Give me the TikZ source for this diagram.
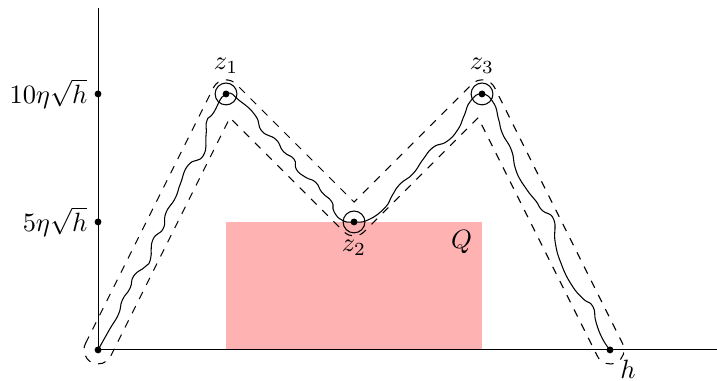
\documentclass[tikz,border=0pt]{standalone}
\usetikzlibrary{calc}
\tikzset{
  node-ring/.style={draw,circle,minimum size=2.9mm,inner sep=0pt},
  node-dot/.style={fill=black,circle,minimum size=2.6pt,inner sep=0pt},
  axisline/.style={draw,line width=0.4pt},
  tube/.style={draw,dashed,line width=0.4pt},
  walk/.style={draw,line width=0.4pt},
  region/.style={fill=red!30,draw=none},
}

\begin{document}
\begin{tikzpicture}[x=0.34cm,y=0.34cm]
  \useasboundingbox (-3.83,-1.21) rectangle (24.18,13.67);

  \coordinate (o)    at (0,0);
  \coordinate (c1)   at (5,10);
  \coordinate (c2)   at (10,5);
  \coordinate (c3)   at (15,10);
  \coordinate (ch)   at (20,0);
  \coordinate (ytop) at (0,13.36);
  \coordinate (xend) at (24.18,0);

  % region Q
  \fill[region] (5,0) rectangle (15,5);
  \node (q) at (14.2,4.2) {$Q$};

  % axes
  \draw[axisline] (o) -- (ytop);
  \draw[axisline] (o) -- (xend);
  \node[node-dot,label={[label distance=-1pt]left:$5\eta\sqrt{h}$}]  (t5)  at (0,5)  {};
  \node[node-dot,label={[label distance=-1pt]left:$10\eta\sqrt{h}$}] (t10) at (0,10) {};

  % tube of width 0.55 round the broken line
  \draw[tube] ($(o)+(153.43:0.55)$) -- ($(c1)+(153.43:0.55)$)
    arc[start angle=153.43,end angle=45,radius=0.55]
    -- (10,5.7778) -- ($(c3)+(135:0.55)$)
    arc[start angle=135,end angle=26.57,radius=0.55]
    -- ($(ch)+(26.57:0.55)$)
    arc[start angle=26.57,end angle=-153.43,radius=0.55]
    -- (14.8493,9.0715) -- ($(c2)+(-45:0.55)$)
    arc[start angle=-45,end angle=-135,radius=0.55]
    -- (5.1507,9.0715) -- ($(o)+(-26.57:0.55)$)
    arc[start angle=-26.57,end angle=-206.57,radius=0.55]
    -- cycle;

  % the walk
  \draw[walk] plot[smooth,tension=0.9] coordinates {
    (o) (0.45,0.80) (0.80,1.40) (0.95,1.95) (1.25,2.41)
    (1.40,2.90) (1.84,3.25) (2.05,3.55) (2.14,4.30)
    (2.55,4.75) (2.65,5.35) (3.01,5.92) (3.22,6.50)
    (3.53,7.23) (4.11,7.59) (4.22,8.40) (4.25,8.95)
    (4.50,9.25) (c1)
    (5.55,9.72) (6.15,9.15) (6.40,8.55) (6.95,8.22)
    (7.24,7.75) (7.66,7.45) (7.75,7.05) (8.10,6.75)
    (8.50,6.55) (8.75,6.15) (9.13,5.79) (9.22,5.40)
    (9.55,5.06) (c2)
    (10.55,5.08) (11.20,5.55) (11.50,6.05)
    (11.80,6.48) (12.30,6.88) (12.70,7.45)
    (13.10,7.92) (13.62,8.14) (14.05,8.60)
    (14.30,9.15) (14.55,9.72) (c3)
    (15.45,9.65) (15.65,9.00) (15.80,8.45)
    (16.15,7.80) (16.30,7.10) (16.55,6.55)
    (16.85,6.12) (17.12,5.80) (17.35,5.45)
    (17.80,5.10) (17.86,4.20) (18.10,3.35)
    (18.50,2.54) (18.95,2.00) (19.33,1.70)
    (19.45,1.10) (19.70,0.45) (ch)
  };

  % marked points
  \node[node-ring,label=above:$z_1$] (z1) at (c1) {};
  \node[node-ring,label={[label distance=-1pt]below:$z_2$}] (z2) at (c2) {};
  \node[node-ring,label=above:$z_3$] (z3) at (c3) {};
  \node[node-dot] (d1) at (c1) {};
  \node[node-dot] (d2) at (c2) {};
  \node[node-dot] (d3) at (c3) {};
  \node[node-dot] (d0) at (o)  {};
  \node[node-dot,label={[label distance=-1pt]below right:$h$}] (h) at (ch) {};

\end{tikzpicture}
\end{document}
